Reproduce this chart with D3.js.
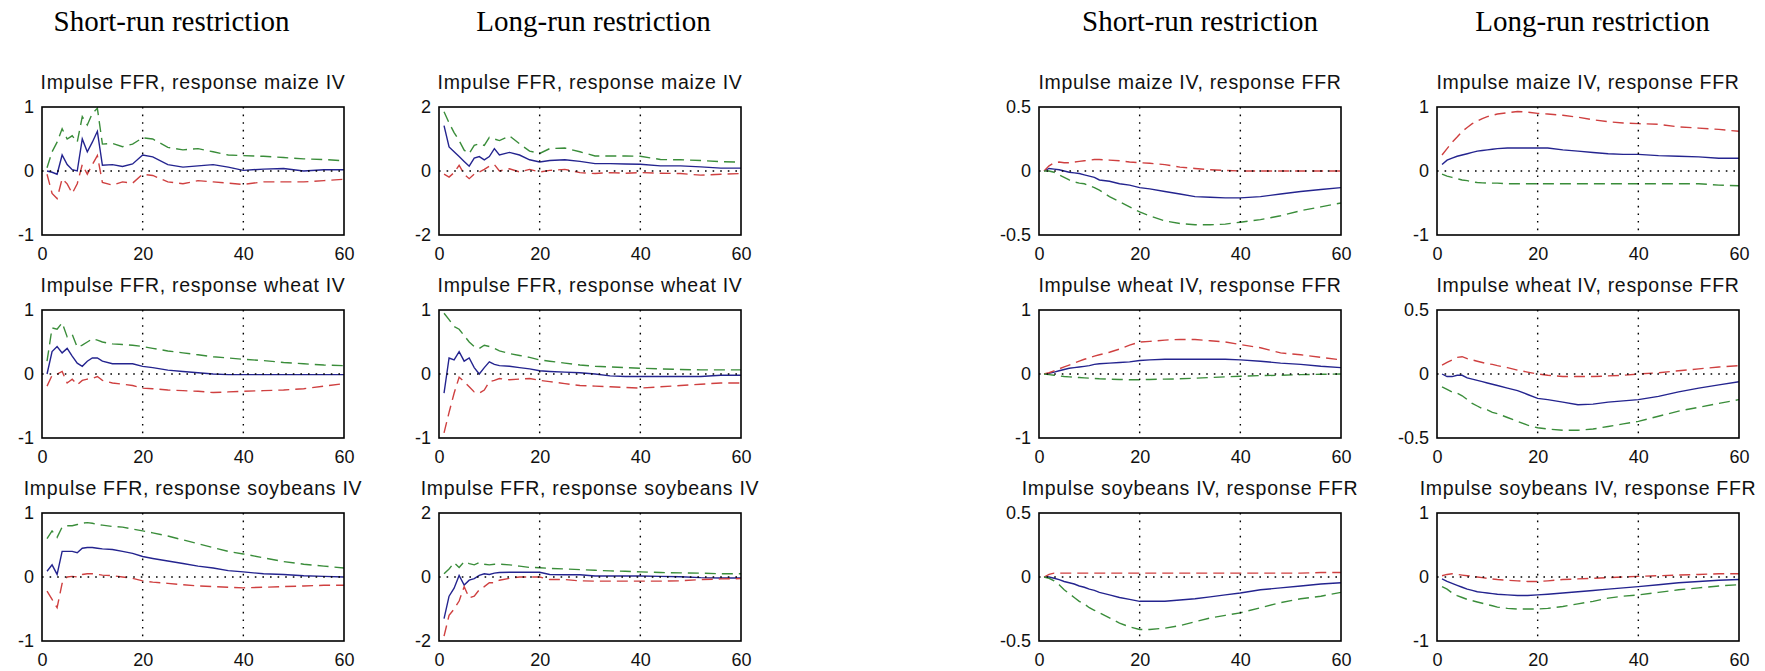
<!DOCTYPE html>
<html>
<head>
<meta charset="utf-8">
<script src="https://cdn.jsdelivr.net/npm/d3@7"></script>
<style>
  body { margin: 0; background: #fff; }
  svg { display: block; }
  .hdr { font-family: "Liberation Serif", "Times New Roman", serif; font-size: 29px; fill: #000; }
  .ttl { font-family: "Liberation Sans", Arial, sans-serif; font-size: 19.5px; letter-spacing: 0.7px; fill: #111; }
  .tick text { font-family: "Liberation Sans", Arial, sans-serif; font-size: 18px; fill: #111; }
</style>
</head>
<body>
<svg id="chart" width="1765" height="671"></svg>
<script>
'use strict';

// Horizontes
const horizons = [1,2,3,4,5,6,7,8,9,10,11,12,14,16,18,20,22,25,28,31,34,37,40,44,48,52,56,60];
const xTicks = [0, 20, 40, 60];
const gridX = [20, 40];

const columnHeaders = ["Short-run restriction", "Long-run restriction", "Short-run restriction", "Long-run restriction"];

const panelTitles = [
  "Impulse FFR, response maize IV", "Impulse FFR, response maize IV",
  "Impulse maize IV, response FFR", "Impulse maize IV, response FFR",
  "Impulse FFR, response wheat IV", "Impulse FFR, response wheat IV",
  "Impulse wheat IV, response FFR", "Impulse wheat IV, response FFR",
  "Impulse FFR, response soybeans IV", "Impulse FFR, response soybeans IV",
  "Impulse soybeans IV, response FFR", "Impulse soybeans IV, response FFR"
];
const yLimits = [1, 2, 0.5, 1,  1, 1, 1, 0.5,  1, 2, 0.5, 1];

// Cada panel: [azul (respuesta), rojo, verde]
const ffrMaizeSR = [
  [0, -0.02, -0.05, 0.25, 0.1, 0.02, 0, 0.5, 0.3, 0.45, 0.62, 0.09, 0.1, 0.07, 0.11, 0.25, 0.22, 0.1, 0.06, 0.08, 0.1, 0.06, 0.01, 0.03, 0.04, 0, 0.02, 0.02],
  [-0.05, -0.35, -0.43, -0.12, -0.2, -0.35, -0.2, 0.1, -0.05, 0.1, 0.24, -0.18, -0.22, -0.17, -0.19, -0.05, -0.07, -0.17, -0.2, -0.15, -0.17, -0.19, -0.21, -0.17, -0.17, -0.17, -0.15, -0.13],
  [0.05, 0.3, 0.45, 0.66, 0.5, 0.55, 0.45, 0.85, 0.72, 0.9, 0.98, 0.42, 0.43, 0.38, 0.42, 0.52, 0.5, 0.37, 0.33, 0.35, 0.3, 0.25, 0.24, 0.23, 0.21, 0.19, 0.18, 0.16]
];
const ffrMaizeLR = [
  [1.42, 0.75, 0.6, 0.45, 0.3, 0.15, 0.4, 0.45, 0.35, 0.45, 0.7, 0.5, 0.58, 0.5, 0.35, 0.28, 0.33, 0.35, 0.3, 0.23, 0.23, 0.22, 0.21, 0.16, 0.16, 0.13, 0.09, 0.09],
  [-0.1, -0.19, -0.05, 0.18, -0.1, -0.24, -0.1, -0.03, 0.05, 0.15, 0.2, 0, 0.07, -0.03, 0.05, -0.03, 0.02, 0.05, -0.05, -0.08, -0.05, -0.07, -0.05, -0.07, -0.08, -0.13, -0.1, -0.08],
  [1.85, 1.5, 1.2, 0.95, 0.65, 0.55, 0.8, 0.85, 0.8, 1.05, 1.0, 0.95, 1.1, 0.85, 0.62, 0.55, 0.7, 0.72, 0.6, 0.47, 0.47, 0.47, 0.46, 0.36, 0.35, 0.33, 0.29, 0.28]
];
const maizeFfrSR = [
  [0, 0.02, 0.015, 0.01, 0, -0.01, -0.015, -0.02, -0.03, -0.04, -0.05, -0.07, -0.08, -0.1, -0.11, -0.13, -0.14, -0.16, -0.18, -0.2, -0.205, -0.21, -0.21, -0.2, -0.18, -0.16, -0.145, -0.13],
  [0, 0.04, 0.065, 0.07, 0.065, 0.065, 0.07, 0.075, 0.08, 0.085, 0.09, 0.09, 0.085, 0.08, 0.07, 0.065, 0.06, 0.05, 0.03, 0.02, 0.01, 0.005, 0, 0, 0, 0, 0, 0],
  [0, 0, -0.01, -0.03, -0.05, -0.07, -0.085, -0.095, -0.1, -0.115, -0.13, -0.15, -0.2, -0.24, -0.28, -0.32, -0.35, -0.39, -0.41, -0.42, -0.42, -0.415, -0.4, -0.38, -0.35, -0.31, -0.28, -0.25]
];
const maizeFfrLR = [
  [0.1, 0.17, 0.2, 0.23, 0.25, 0.27, 0.29, 0.31, 0.32, 0.33, 0.34, 0.35, 0.36, 0.36, 0.36, 0.36, 0.36, 0.33, 0.31, 0.29, 0.27, 0.26, 0.26, 0.24, 0.23, 0.22, 0.2, 0.2],
  [0.25, 0.35, 0.45, 0.53, 0.62, 0.68, 0.74, 0.78, 0.82, 0.85, 0.87, 0.89, 0.91, 0.93, 0.92, 0.9, 0.89, 0.87, 0.84, 0.8, 0.77, 0.75, 0.74, 0.73, 0.69, 0.67, 0.65, 0.62],
  [-0.05, -0.08, -0.1, -0.12, -0.14, -0.15, -0.17, -0.18, -0.185, -0.19, -0.19, -0.19, -0.2, -0.2, -0.2, -0.2, -0.2, -0.2, -0.2, -0.2, -0.2, -0.2, -0.2, -0.2, -0.2, -0.2, -0.22, -0.23]
];
const ffrWheatSR = [
  [0, 0.35, 0.43, 0.33, 0.4, 0.28, 0.17, 0.12, 0.2, 0.25, 0.25, 0.2, 0.16, 0.16, 0.16, 0.12, 0.1, 0.06, 0.04, 0.02, 0, -0.01, -0.01, -0.01, -0.01, -0.01, -0.01, -0.01],
  [-0.19, -0.02, 0, 0.04, -0.14, -0.08, -0.17, -0.1, -0.08, -0.07, -0.04, -0.1, -0.14, -0.16, -0.18, -0.22, -0.23, -0.25, -0.26, -0.27, -0.29, -0.28, -0.27, -0.26, -0.25, -0.23, -0.19, -0.15],
  [0.2, 0.72, 0.7, 0.8, 0.58, 0.62, 0.42, 0.45, 0.5, 0.55, 0.53, 0.5, 0.47, 0.46, 0.45, 0.43, 0.4, 0.36, 0.33, 0.3, 0.27, 0.25, 0.23, 0.21, 0.18, 0.16, 0.14, 0.13]
];
const ffrWheatLR = [
  [-0.3, 0.25, 0.22, 0.35, 0.2, 0.25, 0.1, 0, 0.1, 0.19, 0.15, 0.13, 0.12, 0.1, 0.08, 0.05, 0.04, 0.03, 0.02, 0, -0.03, -0.04, -0.04, -0.04, -0.04, -0.04, -0.02, -0.02],
  [-0.92, -0.6, -0.3, -0.05, -0.12, -0.2, -0.28, -0.3, -0.25, -0.12, -0.1, -0.07, -0.09, -0.08, -0.07, -0.1, -0.12, -0.15, -0.18, -0.19, -0.2, -0.21, -0.22, -0.2, -0.18, -0.16, -0.14, -0.14],
  [0.95, 0.85, 0.74, 0.7, 0.6, 0.5, 0.43, 0.4, 0.45, 0.43, 0.4, 0.36, 0.32, 0.29, 0.26, 0.22, 0.2, 0.17, 0.14, 0.12, 0.11, 0.1, 0.09, 0.08, 0.07, 0.065, 0.065, 0.065]
];
const wheatFfrSR = [
  [0, 0.01, 0.03, 0.05, 0.07, 0.09, 0.1, 0.11, 0.12, 0.13, 0.15, 0.16, 0.17, 0.18, 0.19, 0.21, 0.22, 0.23, 0.23, 0.23, 0.23, 0.23, 0.22, 0.2, 0.17, 0.15, 0.12, 0.1],
  [0, 0.02, 0.05, 0.08, 0.11, 0.14, 0.17, 0.2, 0.23, 0.25, 0.28, 0.3, 0.34, 0.39, 0.45, 0.5, 0.51, 0.53, 0.54, 0.54, 0.52, 0.5, 0.46, 0.41, 0.33, 0.3, 0.26, 0.22],
  [0, -0.01, -0.02, -0.03, -0.04, -0.045, -0.05, -0.055, -0.06, -0.065, -0.07, -0.075, -0.08, -0.085, -0.09, -0.09, -0.085, -0.08, -0.075, -0.065, -0.055, -0.045, -0.035, -0.025, -0.02, -0.01, -0.005, 0]
];
const wheatFfrLR = [
  [0, -0.02, -0.02, -0.01, -0.01, -0.03, -0.04, -0.05, -0.06, -0.07, -0.08, -0.09, -0.11, -0.13, -0.16, -0.19, -0.2, -0.22, -0.24, -0.235, -0.22, -0.21, -0.2, -0.175, -0.14, -0.11, -0.085, -0.06],
  [0.07, 0.09, 0.11, 0.13, 0.135, 0.12, 0.11, 0.1, 0.09, 0.08, 0.075, 0.065, 0.05, 0.03, 0.015, 0, -0.01, -0.02, -0.02, -0.02, -0.015, -0.01, 0, 0.01, 0.025, 0.04, 0.055, 0.065],
  [-0.1, -0.12, -0.14, -0.15, -0.17, -0.2, -0.23, -0.25, -0.27, -0.28, -0.3, -0.31, -0.34, -0.37, -0.4, -0.42, -0.43, -0.44, -0.44, -0.43, -0.41, -0.39, -0.37, -0.33, -0.29, -0.26, -0.23, -0.2]
];
const ffrSoySR = [
  [0.09, 0.19, 0.04, 0.4, 0.4, 0.4, 0.38, 0.45, 0.46, 0.46, 0.45, 0.44, 0.43, 0.4, 0.37, 0.32, 0.29, 0.25, 0.21, 0.17, 0.14, 0.1, 0.08, 0.05, 0.04, 0.02, 0.01, 0],
  [-0.22, -0.35, -0.48, -0.1, 0, 0.01, 0, 0.04, 0.05, 0.05, 0.04, 0.03, 0.02, 0, -0.02, -0.06, -0.08, -0.1, -0.12, -0.14, -0.15, -0.16, -0.17, -0.16, -0.15, -0.14, -0.13, -0.13],
  [0.6, 0.72, 0.62, 0.78, 0.8, 0.8, 0.82, 0.84, 0.85, 0.84, 0.82, 0.81, 0.79, 0.78, 0.75, 0.72, 0.69, 0.64, 0.58, 0.52, 0.46, 0.4, 0.36, 0.3, 0.24, 0.2, 0.17, 0.14]
];
const ffrSoyLR = [
  [-1.3, -0.6, -0.35, 0.05, -0.25, -0.1, -0.05, 0.05, 0.1, 0.08, 0.12, 0.14, 0.15, 0.15, 0.15, 0.15, 0.08, 0.07, 0.07, 0.03, 0.03, 0.03, 0.03, 0.02, 0.01, -0.02, -0.03, -0.03],
  [-1.85, -1.2, -1.0, -0.75, -0.3, -0.65, -0.6, -0.4, -0.3, -0.18, -0.18, -0.1, -0.04, 0, 0, 0, -0.08, -0.08, -0.12, -0.13, -0.13, -0.13, -0.13, -0.13, -0.12, -0.08, -0.06, -0.05],
  [0.1, 0.25, 0.45, 0.3, 0.48, 0.42, 0.38, 0.45, 0.4, 0.38, 0.4, 0.4, 0.38, 0.34, 0.3, 0.29, 0.27, 0.25, 0.23, 0.21, 0.19, 0.18, 0.16, 0.14, 0.13, 0.12, 0.1, 0.1]
];
const soyFfrSR = [
  [0, 0, -0.01, -0.02, -0.035, -0.045, -0.055, -0.07, -0.08, -0.095, -0.105, -0.12, -0.14, -0.16, -0.175, -0.19, -0.19, -0.19, -0.18, -0.17, -0.155, -0.14, -0.125, -0.1, -0.085, -0.07, -0.055, -0.045],
  [0, 0.02, 0.03, 0.03, 0.03, 0.03, 0.03, 0.03, 0.03, 0.03, 0.03, 0.03, 0.03, 0.03, 0.03, 0.03, 0.03, 0.03, 0.03, 0.03, 0.03, 0.03, 0.03, 0.03, 0.03, 0.03, 0.035, 0.035],
  [0, -0.01, -0.03, -0.06, -0.1, -0.13, -0.16, -0.19, -0.21, -0.24, -0.26, -0.28, -0.32, -0.36, -0.39, -0.41, -0.41, -0.4, -0.38, -0.35, -0.32, -0.3, -0.28, -0.24, -0.2, -0.17, -0.15, -0.12]
];
const soyFfrLR = [
  [-0.03, -0.07, -0.1, -0.13, -0.16, -0.19, -0.21, -0.23, -0.24, -0.25, -0.26, -0.27, -0.28, -0.29, -0.29, -0.28, -0.27, -0.25, -0.23, -0.21, -0.19, -0.17, -0.15, -0.12, -0.09, -0.07, -0.05, -0.04],
  [0.02, 0.04, 0.05, 0.04, 0.03, 0.02, 0.01, 0, -0.01, -0.02, -0.03, -0.04, -0.05, -0.06, -0.07, -0.07, -0.06, -0.04, -0.03, -0.02, -0.01, 0, 0.01, 0.02, 0.03, 0.04, 0.05, 0.05],
  [-0.15, -0.19, -0.25, -0.29, -0.32, -0.35, -0.37, -0.39, -0.41, -0.43, -0.45, -0.47, -0.49, -0.5, -0.5, -0.5, -0.49, -0.46, -0.42, -0.38, -0.33, -0.3, -0.28, -0.24, -0.2, -0.17, -0.14, -0.12]
];

const panelData = [
  ffrMaizeSR, ffrMaizeLR, maizeFfrSR, maizeFfrLR,
  ffrWheatSR, ffrWheatLR, wheatFfrSR, wheatFfrLR,
  ffrSoySR, ffrSoyLR, soyFfrSR, soyFfrLR
];

// Estilo de las series: azul sólido, rojo y verde discontinuos
const seriesStyle = [
  { color: '#24248f', dash: null },
  { color: '#cf4040', dash: '11,6' },
  { color: '#3a8d3a', dash: '11,6' }
];

// Disposición
const colX = [42, 439, 1039, 1437];
const rowY = [107, 310, 513];
const headerX = [171.5, 593.5, 1200, 1592.5];
const pw = 302, ph = 128;

const svg = d3.select('#chart');
svg.append('rect').attr('width', 1765).attr('height', 671).attr('fill', '#fff');

columnHeaders.forEach(function(h, i) {
  svg.append('text').attr('class', 'hdr')
    .attr('x', headerX[i]).attr('y', 31)
    .attr('text-anchor', 'middle').text(h);
});

const x = d3.scaleLinear().domain([0, 60]).range([0, pw]);

panelData.forEach(function(series, i) {
  var col = i % 4, row = Math.floor(i / 4);
  var lim = yLimits[i];
  var y = d3.scaleLinear().domain([-lim, lim]).range([ph, 0]);
  var g = svg.append('g').attr('transform', 'translate(' + colX[col] + ',' + rowY[row] + ')');

  g.append('clipPath').attr('id', 'clip' + i)
    .append('rect').attr('width', pw).attr('height', ph);

  g.append('text').attr('class', 'ttl')
    .attr('x', pw / 2).attr('y', -18)
    .attr('text-anchor', 'middle').text(panelTitles[i]);

  var line = d3.line().x(function(d, k) { return x(horizons[k]); }).y(function(d) { return y(d); });

  var plot = g.append('g').attr('clip-path', 'url(#clip' + i + ')');
  series.forEach(function(vals, s) {
    plot.append('path')
      .attr('d', line(vals))
      .attr('fill', 'none')
      .attr('stroke', seriesStyle[s].color)
      .attr('stroke-width', 1.4)
      .attr('stroke-dasharray', seriesStyle[s].dash);
  });

  // líneas punteadas: x = 20, 40 y y = 0
  gridX.forEach(function(v) {
    g.append('line').attr('x1', x(v)).attr('x2', x(v)).attr('y1', 0).attr('y2', ph)
      .attr('stroke', '#000').attr('stroke-width', 1.4).attr('stroke-dasharray', '1.6,6');
  });
  g.append('line').attr('x1', 0).attr('x2', pw).attr('y1', y(0)).attr('y2', y(0))
    .attr('stroke', '#000').attr('stroke-width', 1.4).attr('stroke-dasharray', '1.6,6');

  g.append('rect').attr('width', pw).attr('height', ph)
    .attr('fill', 'none').attr('stroke', '#000').attr('stroke-width', 1.6);

  var ya = g.append('g').call(d3.axisLeft(y).tickValues([-lim, 0, lim]).tickSize(0).tickPadding(8)
    .tickFormat(function(d) { return String(d); }));
  ya.select('.domain').remove();

  var xa = g.append('g').attr('transform', 'translate(0,' + ph + ')')
    .call(d3.axisBottom(x).tickValues(xTicks).tickSize(0).tickPadding(12));
  xa.select('.domain').remove();
});
</script>
</body>
</html>
